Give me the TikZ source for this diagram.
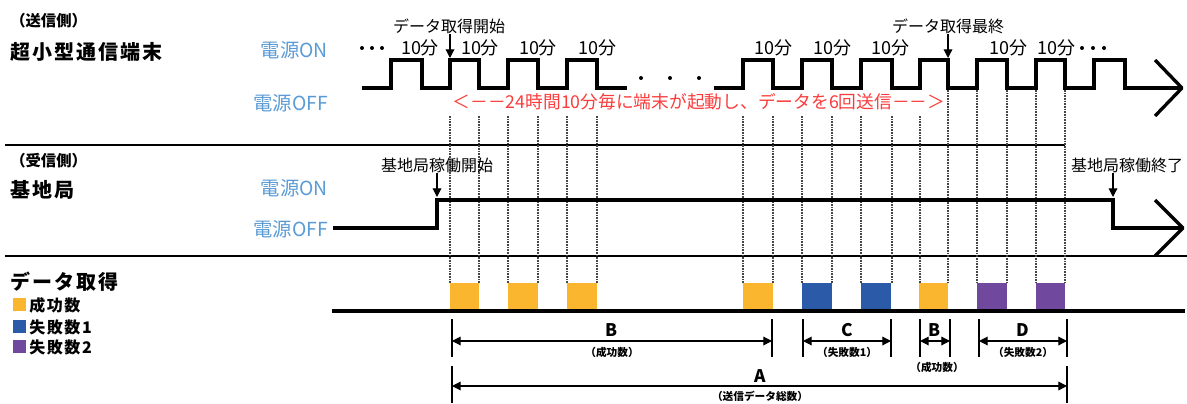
\documentclass[tikz,border=0pt]{standalone}
\usepackage{fontspec}
\setmainfont{Noto Sans CJK JP}
\usetikzlibrary{arrows.meta,calc}
\definecolor{pwr}{RGB}{91,155,213}
\definecolor{okc}{RGB}{251,182,48}
\definecolor{ngone}{RGB}{42,90,168}
\definecolor{ngtwo}{RGB}{112,72,158}
\definecolor{redt}{RGB}{250,60,60}
\begin{document}
\begin{tikzpicture}[x=0.75pt,y=-0.75pt,
  sig/.style={line width=2.5pt,line join=miter},
  sep/.style={line width=1.6pt},
  tick/.style={line width=1.5pt},
  dimline/.style={line width=0.9pt,{Triangle[length=6.5pt,width=6.5pt]}-{Triangle[length=6.5pt,width=6.5pt]}},
  downarr/.style={line width=0.9pt,-{Triangle[length=6.5pt,width=6.5pt]}},
  guide/.style={line width=1.3pt,gray!55!black,dash pattern=on 1.2pt off 0.8pt},
  title/.style={font=\bfseries\fontsize{15}{17}\selectfont\addfontfeatures{LetterSpace=10},inner sep=0pt,anchor=west},
  side/.style={font=\bfseries\fontsize{11.5}{14}\selectfont,inner sep=0pt,anchor=west},
  pwrlbl/.style={font=\fontsize{14.5}{16}\selectfont,text=pwr,inner sep=0pt,anchor=east},
  evt/.style={font=\fontsize{12}{14}\selectfont,inner sep=0pt},
  tenmin/.style={font=\fontsize{13.5}{15}\selectfont,inner sep=0pt},
  legtxt/.style={font=\bfseries\fontsize{12}{14}\selectfont\addfontfeatures{LetterSpace=10},inner sep=0pt,anchor=west},
  letter/.style={font=\bfseries\fontsize{13}{15}\selectfont,inner sep=0pt},
  sub/.style={font=\bfseries\fontsize{8}{10}\selectfont,inner sep=0pt},
  dot/.style={circle,fill=black,inner sep=0pt,minimum size=3pt}
]
\useasboundingbox (0,0) rectangle (1187,403);

% ---------- left titles ----------
\node[side]  (tx)  at (10,21)  {（送信側）};
\node[title] (txn) at (10,52)  {超小型通信端末};
\node[side]  (rx)  at (10,161) {（受信側）};
\node[title] (rxn) at (10,190) {基地局};
\node[title] (dq)  at (10,282) {データ取得};

% legend
\fill[okc]   (13,298) rectangle (26,311);
\node[legtxt] (l1) at (29,305) {成功数};
\fill[ngone] (13,320) rectangle (26,333);
\node[legtxt] (l2) at (29,327) {失敗数1};
\fill[ngtwo] (13,340) rectangle (26,353);
\node[legtxt] (l3) at (29,347) {失敗数2};

% ---------- power labels ----------
\node[pwrlbl] (ton)  at (328,50)  {電源ON};
\node[pwrlbl] (toff) at (328,103) {電源OFF};
\node[pwrlbl] (bon)  at (328,188) {電源ON};
\node[pwrlbl] (boff) at (328,229) {電源OFF};

% ---------- separators ----------
\draw[sep] (5,145) -- (1065,145);
\draw[sep] (5,256) -- (1187,256);

% ---------- guides ----------
\foreach \x in {450,479,508,538,567,597,743,773,802,832,861,892,920}
  \draw[guide] (\x,116) -- (\x,283);
\foreach \x in {948,977,1007,1036,1065}
  \draw[guide] (\x,90) -- (\x,283);

% ---------- transmitter signal ----------
\draw[sig] (362,88) -- (391,88) -- (391,60) -- (422,60) -- (422,88) -- (450,88) -- (450,60) -- (479,60) -- (479,88)
  -- (508,88) -- (508,60) -- (538,60) -- (538,88) -- (567,88) -- (567,60) -- (597,60) -- (597,88) -- (627,88);
\draw[sig] (714,88) -- (743,88) -- (743,60) -- (773,60) -- (773,88) -- (802,88) -- (802,60) -- (832,60) -- (832,88)
  -- (861,88) -- (861,60) -- (892,60) -- (892,88) -- (920,88) -- (920,60) -- (948,60) -- (948,88)
  -- (977,88) -- (977,60) -- (1007,60) -- (1007,88) -- (1036,88) -- (1036,60) -- (1065,60) -- (1065,88)
  -- (1094,88) -- (1094,60) -- (1125,60) -- (1125,88) -- (1182,88);
\draw[sig,line join=round] (1155,60) -- (1182,88) -- (1155,116);
\node[dot] (g1) at (641,78) {};
\node[dot] (g2) at (670,78) {};
\node[dot] (g3) at (699,78) {};
\node[dot] (a1) at (362,48) {};
\node[dot] (a2) at (372,48) {};
\node[dot] (a3) at (382,48) {};
\node[dot] (b1) at (1082,48) {};
\node[dot] (b2) at (1093,48) {};
\node[dot] (b3) at (1104,48) {};

% 10 min labels
\foreach \x in {420,480,538,597,773,832,890,1008,1056}
  \node[tenmin] at (\x,48) {10分};

% events
\node[evt] (st) at (449,26) {データ取得開始};
\coordinate (stp) at (450,58);
\draw[downarr] (st.south -| stp) -- (stp);
\node[evt] (en) at (948,26) {データ取得最終};
\coordinate (enp) at (948,58);
\draw[downarr] (en.south -| enp) -- (enp);

\node[font=\fontsize{13.3}{15}\selectfont,text=redt,inner sep=0pt] (msg) at (699,102)
  {＜－－24時間10分毎に端末が起動し、データを6回送信－－＞};

% ---------- base station ----------
\coordinate (bs0) at (333,228);
\draw[sig] (bs0) -- (437,228) -- (437,200) -- (1113,200) -- (1113,228) -- (1183,228);
\draw[sig,line join=round] (1155,200) -- (1183,228) -- (1155,256);
\node[evt] (bst) at (437,165) {基地局稼働開始};
\coordinate (bstp) at (437,197);
\draw[downarr] (bst.south -| bstp) -- (bstp);
\node[evt] (ben) at (1127,165) {基地局稼働終了};
\coordinate (benp) at (1113,197);
\draw[downarr] (ben.south -| benp) -- (benp);

% ---------- data blocks ----------
\fill[okc]   (450,283) rectangle (479,311);
\fill[okc]   (508,283) rectangle (538,311);
\fill[okc]   (567,283) rectangle (597,311);
\fill[okc]   (743,283) rectangle (773,311);
\fill[ngone] (802,283) rectangle (832,311);
\fill[ngone] (861,283) rectangle (891,311);
\fill[okc]   (919,283) rectangle (948,311);
\fill[ngtwo] (977,283) rectangle (1007,311);
\fill[ngtwo] (1036,283) rectangle (1065,311);
\draw[sig] (332,311) -- (1185,311);

% ---------- dimensions ----------
\foreach \n/\x in {b0/452,b1/772,c0/803,c1/891,e0/920,e1/950,d0/979,d1/1067}{
  \coordinate (\n t) at (\x,319);
  \coordinate (\n b) at (\x,357);
  \coordinate (\n m) at (\x,341);
  \draw[tick] (\n t) -- (\n b);
}
\coordinate (at0) at (452,366); \coordinate (ab0) at (452,403); \coordinate (am0) at (452,386);
\coordinate (at1) at (1067,366); \coordinate (ab1) at (1067,403); \coordinate (am1) at (1067,386);
\draw[tick] (at0) -- (ab0);
\draw[tick] (at1) -- (ab1);

\draw[dimline] (b0m) -- (b1m);
\draw[dimline] (c0m) -- (c1m);
\draw[dimline] (e0m) -- (e1m);
\draw[dimline] (d0m) -- (d1m);
\draw[dimline] (am0) -- (am1);

\node[letter] (lb)  at (612,330) {B};
\node[sub]    (sb)  at (612,352) {（成功数）};
\node[letter] (lc)  at (847,330) {C};
\node[sub]    (sc)  at (847,352) {（失敗数1）};
\node[letter] (lb2) at (935,330) {B};
\node[sub]    (sb2) at (937,367) {（成功数）};
\node[letter] (ld)  at (1023,330) {D};
\node[sub]    (sd)  at (1023,352) {（失敗数2）};
\node[letter] (la)  at (760,376) {A};
\node[sub]    (sa)  at (760,396) {（送信データ総数）};
\end{tikzpicture}
\end{document}
